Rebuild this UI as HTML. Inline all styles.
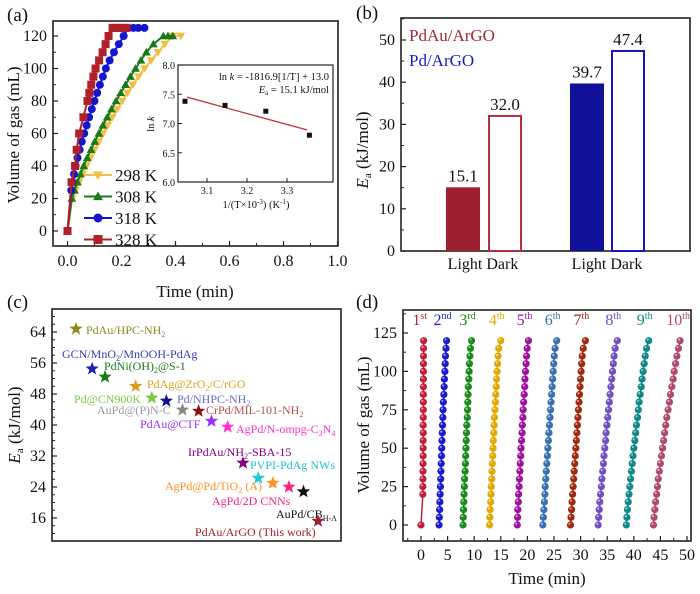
<!DOCTYPE html>
<html><head><meta charset="utf-8"><style>
html,body{margin:0;padding:0;background:#fff}
svg{display:block;font-family:"Liberation Serif",serif}
</style></head><body>
<svg id="fig" width="700" height="594" viewBox="0 0 700 594" xmlns="http://www.w3.org/2000/svg"></svg>
<script>
// ---------- Panel (a) data ----------
const a_t298=[0,0.018,0.03,0.043,0.056,0.07,0.085,0.1,0.116,0.132,0.149,0.166,0.184,0.203,0.222,0.242,0.263,0.285,0.31,0.335,0.36,0.39,0.42];
const a_v298=[0,20,25,30,35,40,45,50,55,60,65,70,75,80,85,90,95,100,105,110,115,120,120];
const a_t308=[0,0.016,0.026,0.037,0.048,0.06,0.073,0.087,0.101,0.116,0.131,0.147,0.163,0.18,0.197,0.215,0.233,0.252,0.272,0.292,0.318,0.355,0.372,0.39];
const a_v308=[0,20,25,30,35,40,45,50,55,60,65,70,75,80,85,90,95,100,105,110,115,120,120,120];
const a_t318=[0,0.014,0.019,0.024,0.03,0.037,0.045,0.053,0.062,0.071,0.08,0.09,0.1,0.11,0.12,0.131,0.142,0.156,0.172,0.19,0.208,0.225,0.244,0.262,0.285];
const a_v318=[0,25,30,35,40,45,50,55,60,65,70,75,80,85,90,95,100,105,110,115,120,125,125,125,125];
const a_t328=[0,0.015,0.028,0.034,0.043,0.059,0.074,0.081,0.088,0.096,0.104,0.117,0.130,0.141,0.152,0.167,0.18,0.193,0.206,0.218];
const a_v328=[0,30,40,50,60,70,80,85,90,95,100,105,110,115,120,125,125,125,125,125];
const a_xTicks=[0,0.2,0.4,0.6,0.8,1.0];
const a_yTicks=[0,20,40,60,80,100,120];
const a_legend=["298 K","308 K","318 K","328 K"];
// inset
const in_x=[3.045,3.145,3.247,3.356];
const in_y=[7.38,7.31,7.21,6.80];
const in_fitX=[3.05,3.35];
const in_fitY=[7.45,6.89];
const in_xTicks=[3.1,3.2,3.3];
const in_yTicks=[6.0,6.5,7.0,7.5,8.0];
// ---------- Panel (b) data ----------
const b_values=[15.1,32.0,39.7,47.4];
const b_labels=["15.1","32.0","39.7","47.4"];
const b_yTicks=[0,10,20,30,40,50];
// ---------- Panel (c) data ----------
const c_names=["PdAu/HPC-NH2","GCN/MnO2/MnOOH-PdAg","PdNi(OH)2@S-1","PdAg@ZrO2/C/rGO","Pd@CN900K","Pd/NHPC-NH2","AuPd@(P)N-C","CrPd/MIL-101-NH2","PdAu@CTF","AgPd/N-ompg-C3N4","IrPdAu/NH2-SBA-15","PVPI-PdAg NWs","AgPd@Pd/TiO2 (A)","AgPd/2D CNNs","AuPd/CBH-A","PdAu/ArGO (This work)"];
const c_index=[1,2.0,2.8,4.7,5.7,6.6,7.6,8.6,9.4,10.4,11.35,12.3,13.2,14.2,15.1,16];
const c_ea=[64.8,54.5,52.4,50.0,47.0,46.2,43.9,43.6,41.0,39.5,30.2,26.3,25.0,24.0,22.8,15.2];
const c_yTicks=[16,24,32,40,48,56,64];
// ---------- Panel (d) data ----------
const d_runVols=[0,5,10,15,20,25,30,35,40,45,50,55,60,65,70,75,80,85,90,95,100,105,110,115,120];
const d_run1Vols=[0,20,25,30,35,40,45,50,55,60,65,70,75,80,85,90,95,100,105,110,115,120];
const d_run1=[0,0.35,0.35,0.37,0.38,0.38,0.4,0.4,0.4,0.42,0.42,0.43,0.43,0.44,0.44,0.45,0.45,0.46,0.46,0.47,0.48,0.5];
const d_run2=[3.4,3.45,3.5,3.55,3.6,3.65,3.7,3.75,3.8,3.85,3.9,3.95,4.0,4.05,4.1,4.15,4.2,4.3,4.35,4.4,4.5,4.55,4.6,4.7,4.8];
const d_run3=[7.9,7.95,8.0,8.05,8.1,8.15,8.2,8.3,8.35,8.4,8.45,8.5,8.55,8.6,8.7,8.75,8.8,8.85,8.9,9.0,9.05,9.1,9.2,9.3,9.5];
const d_run4=[12.9,12.95,13.0,13.1,13.15,13.2,13.3,13.35,13.4,13.5,13.55,13.6,13.7,13.75,13.8,13.9,14.0,14.05,14.15,14.2,14.3,14.4,14.5,14.6,15.0];
const d_run5=[18.1,18.15,18.2,18.3,18.35,18.45,18.5,18.6,18.65,18.75,18.8,18.9,19.0,19.05,19.15,19.2,19.3,19.4,19.5,19.55,19.65,19.75,19.85,19.95,20.2];
const d_run6=[22.9,23.0,23.1,23.2,23.3,23.35,23.45,23.55,23.65,23.75,23.85,23.95,24.05,24.15,24.25,24.35,24.45,24.55,24.65,24.75,24.85,24.95,25.05,25.2,25.5];
const d_run7=[28.1,28.2,28.3,28.4,28.5,28.6,28.7,28.8,28.9,29.0,29.1,29.2,29.3,29.4,29.5,29.6,29.7,29.8,29.9,30.0,30.1,30.2,30.3,30.5,30.9];
const d_run8=[33.3,33.4,33.5,33.6,33.75,33.9,34.0,34.15,34.3,34.4,34.55,34.7,34.8,34.95,35.1,35.25,35.4,35.55,35.7,35.85,36.0,36.15,36.3,36.5,36.9];
const d_run9=[38.6,38.7,38.8,38.95,39.1,39.25,39.4,39.55,39.7,39.85,40.0,40.2,40.35,40.5,40.7,40.85,41.0,41.2,41.4,41.55,41.75,41.95,42.15,42.4,42.8];
const d_run10=[43.7,43.8,43.95,44.1,44.3,44.45,44.6,44.8,45.0,45.2,45.4,45.6,45.8,46.0,46.2,46.45,46.7,46.9,47.15,47.4,47.6,47.85,48.1,48.4,48.7];
const d_runLabels=[["1","st"],["2","nd"],["3","rd"],["4","th"],["5","th"],["6","th"],["7","th"],["8","th"],["9","th"],["10","th"]];
const d_xTicks=[0,5,10,15,20,25,30,35,40,45,50];
const d_yTicks=[0,25,50,75,100,125];

const NS="http://www.w3.org/2000/svg";
const svg=document.getElementById('fig');
function mk(tag,attrs,parent,text){const e=document.createElementNS(NS,tag);for(const k in attrs)e.setAttribute(k,attrs[k]);if(text!==undefined)e.textContent=text;(parent||svg).appendChild(e);return e;}
function grp(name){const g=mk('g',{});


return g;}
function lin(d0,d1,r0,r1){return v=>r0+(v-d0)*(r1-r0)/(d1-d0);}
function frame(g,x0,y0,x1,y1){mk('rect',{x:x0,y:y0,width:x1-x0,height:y1-y0,fill:'none',stroke:'#222','stroke-width':1.6},g);}
function marker(g,shape,x,y,c,s){
 if(shape==='circle')return mk('circle',{cx:x,cy:y,r:s,fill:c},g);
 if(shape==='square')return mk('rect',{x:x-s,y:y-s,width:2*s,height:2*s,fill:c},g);
 if(shape==='tup')return mk('polygon',{points:`${x},${y-s*1.1} ${x-s*1.1},${y+s*0.8} ${x+s*1.1},${y+s*0.8}`,fill:c},g);
 return mk('polygon',{points:`${x},${y+s*1.1} ${x-s*1.1},${y-s*0.8} ${x+s*1.1},${y-s*0.8}`,fill:c},g);
}
function label(txt,x,y,size,name,extra){const t=mk('text',Object.assign({x:x,y:y,'font-size':size,fill:'#111'},extra||{}),svg,txt);


return t;}

// ===== Panel (a) =====
(function(){
 const g=grp('panel-a');
 const X=lin(0,1,67.5,337.5), Y=lin(0,120,231,36);
 const L=53,R=338,T=21,B=246;
 frame(g,L,T,R,B);
 a_xTicks.forEach(v=>{mk('line',{x1:X(v),x2:X(v),y1:B,y2:B-5,stroke:'#222','stroke-width':1.2},g);
   mk('text',{x:X(v),y:B+20,'font-size':16,'text-anchor':'middle',fill:'#111'},g,v.toFixed(1));});
 for(let i=0;i<5;i++){const v=0.1+0.2*i;mk('line',{x1:X(v),x2:X(v),y1:B,y2:B-3,stroke:'#222'},g);}
 a_yTicks.forEach(v=>{mk('line',{x1:L,x2:L+5,y1:Y(v),y2:Y(v),stroke:'#222','stroke-width':1.2},g);
   mk('text',{x:L-6,y:Y(v)+5,'font-size':16,'text-anchor':'end',fill:'#111'},g,String(v));});
 for(let v=10;v<=130;v+=20){if(Y(v)>T)mk('line',{x1:L,x2:L+3,y1:Y(v),y2:Y(v),stroke:'#222'},g);}
 const series=[[a_t298,a_v298,'#f2c040','tdown'],[a_t308,a_v308,'#1a7a1a','tup'],[a_t318,a_v318,'#1515d0','circle'],[a_t328,a_v328,'#b0202a','square']];
 series.forEach((s,si)=>{const sg=mk('g',{},g);
   
   
   mk('polyline',{points:s[0].map((t,i)=>X(t)+','+Y(s[1][i])).join(' '),fill:'none',stroke:s[2],'stroke-width':2},sg);
   s[0].forEach((t,i)=>marker(sg,s[3],X(t),Y(s[1][i]),s[2],4));
   const ly=175+si*21.5;
   const lg=mk('g',{},g);
   
   
   mk('line',{x1:84,x2:112,y1:ly,y2:ly,stroke:s[2],'stroke-width':2},lg);
   marker(lg,s[3],98,ly,s[2],4.5);
   mk('text',{x:115,y:ly+6,'font-size':17,fill:'#111'},lg,a_legend[si]);
 });
 label('Time (min)',195,297,17,'x-axis-title-a',{'text-anchor':'middle'});
 label('Volume of gas (mL)',0,0,17,'y-axis-title-a',{'text-anchor':'middle',transform:'translate(19,135) rotate(-90)'});
 label('(a)',7,21,19,'panel-label-a');
 // inset
 const ig=grp('inset-arrhenius');
 const IX=lin(3.1,3.3,207,287), IY=lin(6,8,182,65);
 const iL=178,iR=333,iT=65,iB=182;
 mk('rect',{x:iL,y:iT,width:iR-iL,height:iB-iT,fill:'#fff',stroke:'#222','stroke-width':1.2},ig);
 in_xTicks.forEach(v=>{mk('line',{x1:IX(v),x2:IX(v),y1:iB,y2:iB-4,stroke:'#222'},ig);
   mk('text',{x:IX(v),y:iB+12,'font-size':10,'text-anchor':'middle',fill:'#111'},ig,v.toFixed(1));});
 in_yTicks.forEach(v=>{mk('line',{x1:iL,x2:iL+4,y1:IY(v),y2:IY(v),stroke:'#222'},ig);
   mk('text',{x:iL-3,y:IY(v)+4,'font-size':10,'text-anchor':'end',fill:'#111'},ig,v.toFixed(1));});
 mk('line',{x1:IX(in_fitX[0]),y1:IY(in_fitY[0]),x2:IX(in_fitX[1]),y2:IY(in_fitY[1]),stroke:'#c0303a','stroke-width':1.3},ig);
 in_x.forEach((x,i)=>mk('rect',{x:IX(x)-2.5,y:IY(in_y[i])-2.5,width:5,height:5,fill:'#111'},ig));
 const t1=mk('text',{x:329,y:80,'font-size':10.5,'text-anchor':'end',fill:'#111'},ig);
 t1.innerHTML='ln <tspan font-style="italic">k</tspan> = -1816.9[1/T] + 13.0';
 const t2=mk('text',{x:329,y:93,'font-size':10.5,'text-anchor':'end',fill:'#111'},ig);
 t2.innerHTML='<tspan font-style="italic">E</tspan><tspan font-size="7" dy="2">a</tspan><tspan dy="-2"> = 15.1 kJ/mol</tspan>';
 const t3=mk('text',{'font-size':10.5,'text-anchor':'middle',fill:'#111',transform:'translate(154,124) rotate(-90)'},ig);
 t3.innerHTML='ln <tspan font-style="italic">k</tspan>';
 const t4=mk('text',{x:256,y:208,'font-size':10.5,'text-anchor':'middle',fill:'#111'},ig);
 t4.innerHTML='1/(T×10<tspan font-size="7" dy="-4">-3</tspan><tspan dy="4">) (K</tspan><tspan font-size="7" dy="-4">-1</tspan><tspan dy="4">)</tspan>';
})();

// ===== Panel (b) =====
(function(){
 const g=grp('panel-b');
 const L=401,R=690,T=18,B=251;
 const Y=lin(0,50,B,40);
 frame(g,L,T,R,B);
 b_yTicks.forEach(v=>{mk('line',{x1:L,x2:L+5,y1:Y(v),y2:Y(v),stroke:'#222','stroke-width':1.2},g);
   mk('text',{x:L-6,y:Y(v)+5,'font-size':16,'text-anchor':'end',fill:'#111'},g,String(v));});
 for(let v=5;v<=55;v+=10){if(Y(v)>T)mk('line',{x1:L,x2:L+3,y1:Y(v),y2:Y(v),stroke:'#222'},g);}
 const bx=[446,488,570,611], bw=34;
 const cols=['#9e2030','#b03040','#10109a','#1515c0'];
 const fills=[true,false,true,false];
 const names=['bar-pdau-light','bar-pdau-dark','bar-pd-light','bar-pd-dark'];
 b_values.forEach((v,i)=>{
   const r=mk('rect',{x:bx[i]+(fills[i]?0:1),y:Y(v),width:bw-(fills[i]?0:2),height:B-Y(v),fill:fills[i]?cols[i]:'#fff',stroke:cols[i],'stroke-width':fills[i]?0:2},g);
   
   
   mk('text',{x:bx[i]+bw/2,y:Y(v)-6,'font-size':17,'text-anchor':'middle',fill:'#111'},g,b_labels[i]);
 });
 mk('text',{x:483,y:269,'font-size':16,'text-anchor':'middle',fill:'#111'},g,'Light Dark');
 mk('text',{x:607,y:269,'font-size':16,'text-anchor':'middle',fill:'#111'},g,'Light Dark');
 label('PdAu/ArGO',409,41,17,'legend-pdau-argo',{fill:'#a82535'});
 label('Pd/ArGO',409,66,17,'legend-pd-argo',{fill:'#1a1ac0'});
 const yt=mk('text',{'font-size':17,'text-anchor':'middle',fill:'#111',transform:'translate(368,150) rotate(-90)'},svg);
 yt.innerHTML='<tspan font-style="italic">E</tspan><tspan font-size="11" dy="3">a</tspan><tspan dy="-3"> (kJ/mol)</tspan>';
 
 
 label('(b)',356,19,19,'panel-label-b');
})();

// ===== Panel (c) =====
(function(){
 const g=grp('panel-c');
 const L=52,R=341,T=309,B=541;
 const Y=lin(16,64,518,332), X=lin(1,16,76,318);
 frame(g,L,T,R,B);
 c_yTicks.forEach(v=>{mk('line',{x1:L,x2:L+5,y1:Y(v),y2:Y(v),stroke:'#222','stroke-width':1.2},g);
   mk('text',{x:L-6,y:Y(v)+5,'font-size':16,'text-anchor':'end',fill:'#111'},g,String(v));});
 for(let v=12;v<=70;v+=2){if(v%8!==0&&Y(v)>T&&Y(v)<B)mk('line',{x1:L,x2:L+3,y1:Y(v),y2:Y(v),stroke:'#222'},g);}
 const cols=['#8a8a20','#2020b0','#1a7a1a','#d9a020','#7ac943','#101090','#888888','#8a1010','#9b30ff','#ff33cc','#800080','#20c8d8','#ff9020','#ff2080','#111111','#a02030'];
 const lcols=['#8a8a20','#3b3bb8','#1a7a1a','#d9a020','#7ac943','#6b6bd0','#999999','#b05050','#9b30ff','#ff33cc','#800080','#20c0d0','#ff9020','#ff2080','#111111','#a02030'];
 const lx=[86,62,104,147,74,177,97,206,140,236,188,250,165,212,276,195];
 const ly=[334,358,370,388,403,403,414,414,428,433,456,469,490,505,518,536];
 const html=['PdAu/HPC-NH<tspan font-size="8" dy="3">2</tspan>',
  'GCN/MnO<tspan font-size="8" dy="3">2</tspan><tspan dy="-3">/MnOOH-PdAg</tspan>',
  'PdNi(OH)<tspan font-size="8" dy="3">2</tspan><tspan dy="-3">@S-1</tspan>',
  'PdAg@ZrO<tspan font-size="8" dy="3">2</tspan><tspan dy="-3">/C/rGO</tspan>',
  'Pd@CN900K',
  'Pd/NHPC-NH<tspan font-size="8" dy="3">2</tspan>',
  'AuPd@(P)N-C',
  'CrPd/MIL-101-NH<tspan font-size="8" dy="3">2</tspan>',
  'PdAu@CTF',
  'AgPd/N-ompg-C<tspan font-size="8" dy="3">3</tspan><tspan dy="-3">N</tspan><tspan font-size="8" dy="3">4</tspan>',
  'IrPdAu/NH<tspan font-size="8" dy="3">2</tspan><tspan dy="-3">-SBA-15</tspan>',
  'PVPI-PdAg NWs',
  'AgPd@Pd/TiO<tspan font-size="8" dy="3">2</tspan><tspan dy="-3"> (A)</tspan>',
  'AgPd/2D CNNs',
  'AuPd/CB<tspan font-size="8" dy="3">H-A</tspan>',
  'PdAu/ArGO (This work)'];
 function star(cx,cy,r,c){const p=[];for(let k=0;k<10;k++){const a=-Math.PI/2+k*Math.PI/5;const rr=k%2?r*0.42:r;p.push((cx+rr*Math.cos(a)).toFixed(1)+','+(cy+rr*Math.sin(a)).toFixed(1));}return mk('polygon',{points:p.join(' '),fill:c},g);}
 c_ea.forEach((v,i)=>{
   const s=star(X(c_index[i]),Y(v),7,cols[i]);
   
   
   const t=mk('text',{x:lx[i],y:ly[i],'font-size':12,fill:lcols[i]},g);
   t.innerHTML=html[i];
   
   
 });
 const yt=mk('text',{'font-size':17,'text-anchor':'middle',fill:'#111',transform:'translate(20,425) rotate(-90)'},svg);
 yt.innerHTML='<tspan font-style="italic">E</tspan><tspan font-size="11" dy="3">a</tspan><tspan dy="-3"> (kJ/mol)</tspan>';
 
 
 label('(c)',7,308,19,'panel-label-c');
})();

// ===== Panel (d) =====
(function(){
 const g=grp('panel-d');
 const L=403,R=691,T=310,B=541;
 const X=lin(0,50,421,687), Y=lin(0,125,525,333);
 frame(g,L,T,R,B);
 d_xTicks.forEach(v=>{mk('line',{x1:X(v),x2:X(v),y1:B,y2:B-5,stroke:'#222','stroke-width':1.2},g);
   mk('text',{x:X(v),y:B+19,'font-size':16,'text-anchor':'middle',fill:'#111'},g,String(v));});
 for(let v=-2.5;v<=50;v+=5){if(X(v)>L)mk('line',{x1:X(v),x2:X(v),y1:B,y2:B-3,stroke:'#222'},g);}
 d_yTicks.forEach(v=>{mk('line',{x1:L,x2:L+5,y1:Y(v),y2:Y(v),stroke:'#222','stroke-width':1.2},g);
   mk('text',{x:L-6,y:Y(v)+5,'font-size':16,'text-anchor':'end',fill:'#111'},g,String(v));});
 for(let v=12.5;v<=137.5;v+=25){if(Y(v)>T)mk('line',{x1:L,x2:L+3,y1:Y(v),y2:Y(v),stroke:'#222'},g);}
 const runs=[d_run1,d_run2,d_run3,d_run4,d_run5,d_run6,d_run7,d_run8,d_run9,d_run10];
 const cols=['#c0203a','#1a1ad0','#1a8a1a','#e0a800','#a010a0','#3a70b0','#a02a10','#7050c0','#108888','#b04a6a'];
 runs.forEach((r,ri)=>{
   const vols=ri===0?d_run1Vols:d_runVols;
   const sg=mk('g',{},g);
   
   
   mk('polyline',{points:r.map((t,i)=>X(t)+','+Y(vols[i])).join(' '),fill:'none',stroke:cols[ri],'stroke-width':1.5},sg);
   r.forEach((t,i)=>{mk('circle',{cx:X(t),cy:Y(vols[i]),r:3.6,fill:cols[ri]},sg);
     mk('circle',{cx:X(t)-1,cy:Y(vols[i])-1.2,r:1.1,fill:'#fff','fill-opacity':0.55},sg);});
   const lx=X(r[r.length-1])-(ri===9?2:4);
   const t=mk('text',{x:lx,y:325,'font-size':16,'text-anchor':'middle',fill:cols[ri]},sg);
   t.innerHTML=d_runLabels[ri][0]+'<tspan font-size="10" dy="-6">'+d_runLabels[ri][1]+'</tspan>';
 });
 label('Time (min)',547,584,17,'x-axis-title-d',{'text-anchor':'middle'});
 label('Volume of gas (mL)',0,0,17,'y-axis-title-d',{'text-anchor':'middle',transform:'translate(369,425) rotate(-90)'});
 label('(d)',356,308,19,'panel-label-d');
})();
</script>
</body></html>
